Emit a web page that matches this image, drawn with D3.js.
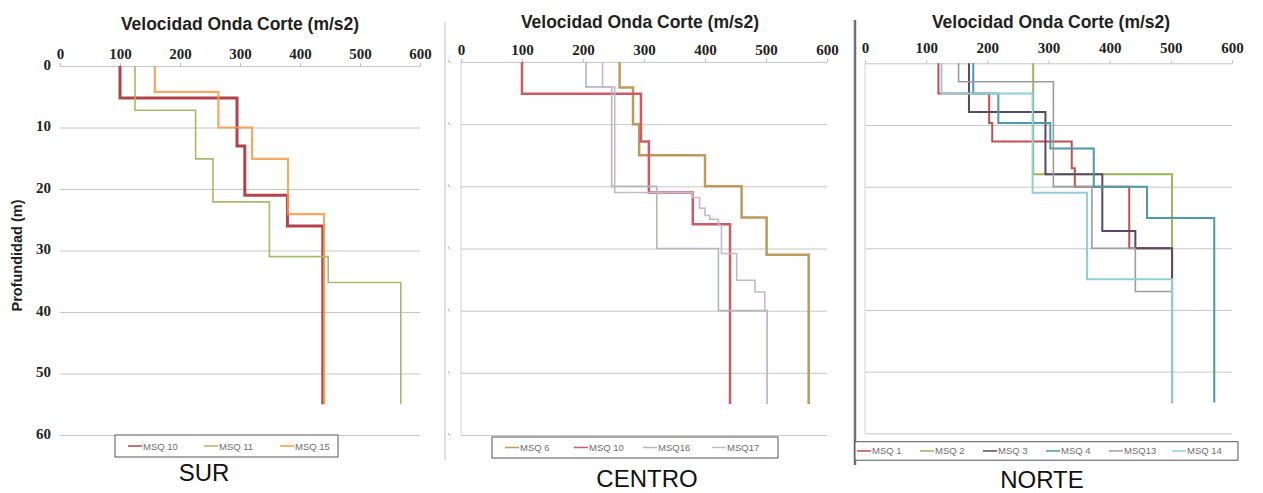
<!DOCTYPE html>
<html>
<head>
<meta charset="utf-8">
<script src="https://cdn.jsdelivr.net/npm/d3@7"></script>
<style>
  html, body { margin: 0; padding: 0; background: #fff; }
  svg { display: block; }
</style>
</head>
<body>
<svg id="chart" width="1263" height="493"></svg>
<script>
// Shear-wave velocity profiles (Vs, m/s) versus depth (m), three zones.
const X_TICKS = [0, 100, 200, 300, 400, 500, 600];
const Y_TICKS = [0, 10, 20, 30, 40, 50, 60];

// Each profile: layer velocities and the layer boundary depths (one more than velocities)
// SUR
const SUR_NAMES = ["MSQ 10", "MSQ 11", "MSQ 15"];
const SUR_MSQ10_VS = [100, 295, 308, 379, 438];
const SUR_MSQ10_Z  = [0, 5.2, 13, 21, 26, 55];
const SUR_MSQ11_VS = [125, 226, 255, 349, 447, 568];
const SUR_MSQ11_Z  = [0, 7.2, 15.1, 22.1, 31, 35.2, 55];
const SUR_MSQ15_VS = [158, 264, 320, 380, 440];
const SUR_MSQ15_Z  = [0, 4.2, 10, 15.1, 24.1, 55];

// CENTRO
const CEN_NAMES = ["MSQ 6", "MSQ 10", "MSQ16", "MSQ17"];
const CEN_MSQ6_VS  = [260, 282, 292, 400, 460, 501, 570];
const CEN_MSQ6_Z   = [0, 4.1, 10, 15, 20, 25, 31, 55];
const CEN_MSQ10_VS = [100, 295, 308, 380, 441];
const CEN_MSQ10_Z  = [0, 5.1, 12.8, 21, 26.1, 55];
const CEN_MSQ16_VS = [205, 247, 321, 422, 502];
const CEN_MSQ16_Z  = [0, 4, 20, 30, 40, 55];
const CEN_MSQ17_VS = [232, 252, 380, 391, 400, 408, 422, 427, 452, 482, 498, 502];
const CEN_MSQ17_Z  = [0, 4, 21, 21.8, 23.5, 24.7, 25.3, 26.3, 30.8, 35.1, 37, 40, 55];

// NORTE
const NOR_NAMES = ["MSQ 1", "MSQ 2", "MSQ 3", "MSQ 4", "MSQ13", "MSQ 14"];
const NOR_MSQ1_VS  = [120, 203, 208, 338, 343, 432, 502];
const NOR_MSQ1_Z   = [0, 4.9, 9.7, 12.7, 17, 20, 30, 55];
const NOR_MSQ2_VS  = [275, 502];
const NOR_MSQ2_Z   = [0, 18, 55];
const NOR_MSQ3_VS  = [170, 295, 388, 442, 502];
const NOR_MSQ3_Z   = [0, 7.9, 18, 27.2, 30, 55];
const NOR_MSQ4_VS  = [177, 218, 303, 374, 461, 571];
const NOR_MSQ4_Z   = [0, 4.9, 9.7, 13.8, 20, 25.1, 55];
const NOR_MSQ13_VS = [153, 308, 371, 442, 502];
const NOR_MSQ13_Z  = [0, 3, 20, 30, 37, 55];
const NOR_MSQ14_VS = [125, 274, 363, 502];
const NOR_MSQ14_Z  = [0, 4.9, 21, 35, 55];

const TITLE = "Velocidad Onda Corte (m/s2)";

const panels = [
  {
    zone: "SUR", x0: 60, x1: 420, y0: 66, y1: 435,
    titleX: 240, titleY: 30, tickPad: 4, yLabels: true, leftLine: false,
    legend: { x: 115, y: 435, w: 223, h: 22, first: 128, step: 76 },
    zoneX: 204, zoneY: 481,
    series: [
      { name: SUR_NAMES[0], vs: SUR_MSQ10_VS, z: SUR_MSQ10_Z, color: "#b0444a", width: 3, op: 1 },
      { name: SUR_NAMES[1], vs: SUR_MSQ11_VS, z: SUR_MSQ11_Z, color: "#a6b96c", width: 1.6, op: 1 },
      { name: SUR_NAMES[2], vs: SUR_MSQ15_VS, z: SUR_MSQ15_Z, color: "#f39a48", width: 2.2, op: 0.85 }
    ]
  },
  {
    zone: "CENTRO", x0: 461, x1: 827, y0: 62, y1: 435,
    titleX: 640, titleY: 28, tickPad: 4, yLabels: false, leftLine: true,
    legend: { x: 492, y: 437, w: 286, h: 21, first: 505, step: 69 },
    zoneX: 647, zoneY: 487,
    series: [
      { name: CEN_NAMES[0], vs: CEN_MSQ6_VS,  z: CEN_MSQ6_Z,  color: "#bf9a5e", width: 2.5, op: 1 },
      { name: CEN_NAMES[1], vs: CEN_MSQ10_VS, z: CEN_MSQ10_Z, color: "#cf5a66", width: 2.5, op: 1 },
      { name: CEN_NAMES[2], vs: CEN_MSQ16_VS, z: CEN_MSQ16_Z, color: "#b2b6be", width: 1.6, op: 1 },
      { name: CEN_NAMES[3], vs: CEN_MSQ17_VS, z: CEN_MSQ17_Z, color: "#c6b6cf", width: 1.6, op: 1 }
    ]
  },
  {
    zone: "NORTE", x0: 865, x1: 1232, y0: 63.3, y1: 433.3,
    titleX: 1051, titleY: 28, tickPad: 7, yLabels: false, leftLine: true,
    legend: { x: 855, y: 441.7, w: 383, h: 18.5, first: 857, step: 63 },
    zoneX: 1042, zoneY: 488,
    series: [
      { name: NOR_NAMES[0], vs: NOR_MSQ1_VS,  z: NOR_MSQ1_Z,  color: "#c0504d", width: 2, op: 1 },
      { name: NOR_NAMES[1], vs: NOR_MSQ2_VS,  z: NOR_MSQ2_Z,  color: "#9bb757", width: 2, op: 1 },
      { name: NOR_NAMES[2], vs: NOR_MSQ3_VS,  z: NOR_MSQ3_Z,  color: "#5a4868", width: 2, op: 1 },
      { name: NOR_NAMES[3], vs: NOR_MSQ4_VS,  z: NOR_MSQ4_Z,  color: "#4a9aab", width: 2, op: 1 },
      { name: NOR_NAMES[4], vs: NOR_MSQ13_VS, z: NOR_MSQ13_Z, color: "#9c9c9c", width: 1.6, op: 1 },
      { name: NOR_NAMES[5], vs: NOR_MSQ14_VS, z: NOR_MSQ14_Z, color: "#8fcfdc", width: 2, op: 1 }
    ]
  }
];

const svg = d3.select("#chart");

// Frame lines between panels
svg.append("line").attr("x1", 445).attr("x2", 445).attr("y1", 22).attr("y2", 460)
  .attr("stroke", "#c2c2c2").attr("stroke-width", 1);
svg.append("line").attr("x1", 855).attr("x2", 855).attr("y1", 20).attr("y2", 465)
  .attr("stroke", "#6f6f6f").attr("stroke-width", 2.5);

function profilePoints(vs, z) {
  const pts = vs.map((v, i) => [v, z[i]]);
  pts.push([vs[vs.length - 1], z[z.length - 1]]);
  return pts;
}

panels.forEach(p => {
  const g = svg.append("g");
  const x = d3.scaleLinear().domain([0, 600]).range([p.x0, p.x1]);
  const y = d3.scaleLinear().domain([0, 60]).range([p.y0, p.y1]);

  // Horizontal gridlines
  const grid = g.append("g")
    .attr("transform", `translate(${p.x0},0)`)
    .call(d3.axisLeft(y).tickValues(Y_TICKS).tickSize(-(p.x1 - p.x0)).tickFormat(""));
  grid.select(".domain").remove();
  grid.selectAll("line").attr("stroke", "#c6c6c6").attr("stroke-width", 1);

  if (p.leftLine) {
    g.append("line").attr("x1", p.x0).attr("x2", p.x0).attr("y1", p.y0).attr("y2", p.y1)
      .attr("stroke", "#d4d4d4").attr("stroke-width", 1);
  }
  if (p.zone === "CENTRO") {
    // small tick marks on the side axis
    g.selectAll("line.ytk").data(Y_TICKS).join("line").attr("class", "ytk")
      .attr("x1", 448).attr("x2", 450)
      .attr("y1", d => y(d) - 2).attr("y2", d => y(d) + 1)
      .attr("stroke", "#aaa");
  }

  // Velocity axis on top
  const xa = g.append("g")
    .attr("transform", `translate(0,${p.y0})`)
    .call(d3.axisTop(x).tickValues(X_TICKS).tickSize(3).tickPadding(p.tickPad));
  xa.select(".domain").remove();
  xa.selectAll("line").attr("stroke", "#bbb");
  xa.selectAll("text")
    .attr("font-family", "'Liberation Serif', serif")
    .attr("font-weight", "bold").attr("font-size", 15).attr("fill", "#222");

  // Depth axis labels
  if (p.yLabels) {
    const ya = g.append("g")
      .attr("transform", `translate(${p.x0},0)`)
      .call(d3.axisLeft(y).tickValues(Y_TICKS).tickSize(0).tickPadding(9));
    ya.select(".domain").remove();
    ya.selectAll("text")
      .attr("font-family", "'Liberation Serif', serif")
      .attr("font-weight", "bold").attr("font-size", 15).attr("fill", "#222")
      .attr("dy", "0.2em");
    g.append("text")
      .attr("transform", `translate(22,${(p.y0 + p.y1) / 2 + 5}) rotate(-90)`)
      .attr("text-anchor", "middle")
      .attr("font-family", "'Liberation Sans', Arial, sans-serif")
      .attr("font-weight", "bold").attr("font-size", 14.5).attr("fill", "#222")
      .text("Profundidad (m)");
  }

  // Title
  g.append("text")
    .attr("x", p.titleX).attr("y", p.titleY)
    .attr("text-anchor", "middle")
    .attr("font-family", "'Liberation Sans', Arial, sans-serif")
    .attr("font-weight", "bold").attr("font-size", 17.5).attr("fill", "#222")
    .text(TITLE);

  // Profiles
  const line = d3.line().x(d => x(d[0])).y(d => y(d[1])).curve(d3.curveStepBefore);
  g.append("g").selectAll("path").data(p.series).join("path")
    .attr("d", s => line(profilePoints(s.vs, s.z)))
    .attr("fill", "none")
    .attr("stroke", s => s.color)
    .attr("stroke-width", s => s.width)
    .attr("stroke-opacity", s => s.op);

  // Legend
  const L = p.legend;
  g.append("rect").attr("x", L.x).attr("y", L.y).attr("width", L.w).attr("height", L.h)
    .attr("fill", "#fff").attr("stroke", "#555").attr("stroke-width", 1);
  const cy = L.y + L.h / 2;
  const items = g.append("g").selectAll("g").data(p.series).join("g")
    .attr("transform", (s, i) => `translate(${L.first + i * L.step},${cy})`);
  items.append("line").attr("x1", 0).attr("x2", 14).attr("y1", 0).attr("y2", 0)
    .attr("stroke", s => s.color).attr("stroke-width", 1.5);
  items.append("text").attr("x", 15).attr("y", 3.5)
    .attr("font-family", "'Liberation Sans', Arial, sans-serif")
    .attr("font-size", 9.5).attr("fill", "#6e6e6e")
    .text(s => s.name);

  // Zone name
  g.append("text")
    .attr("x", p.zoneX).attr("y", p.zoneY)
    .attr("text-anchor", "middle")
    .attr("font-family", "'Liberation Sans', Arial, sans-serif")
    .attr("font-size", 24).attr("fill", "#111")
    .text(p.zone);
});
</script>
</body>
</html>
